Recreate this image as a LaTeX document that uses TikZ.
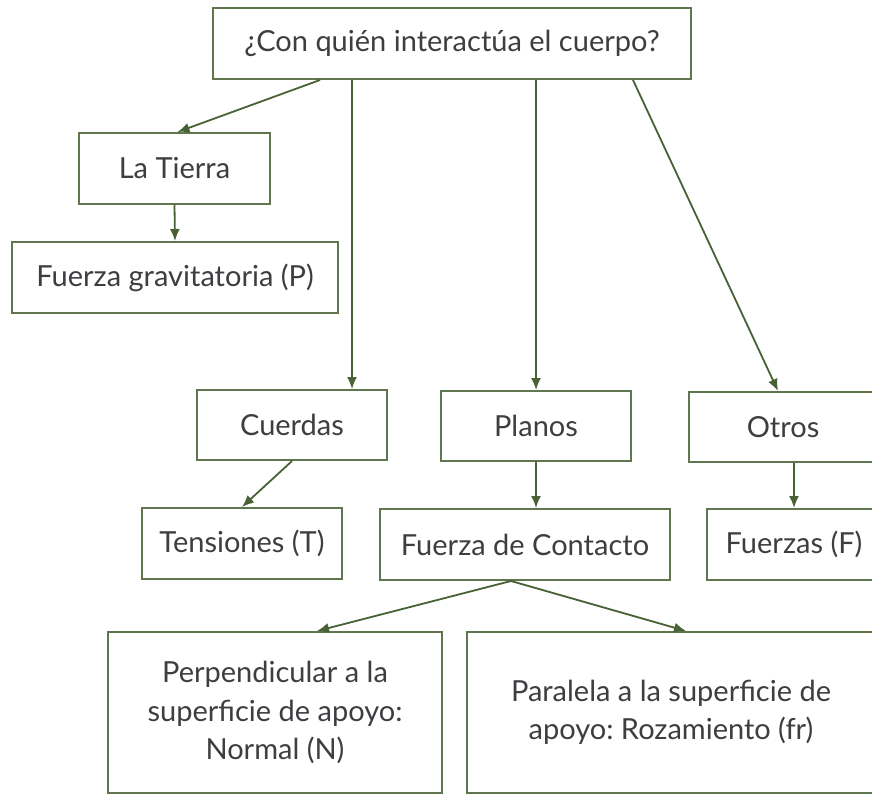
\documentclass[tikz,border=0pt]{standalone}
\usepackage{fontspec}
\setmainfont{Lato}
\usepackage{tikz}
\usetikzlibrary{positioning,arrows.meta}
\definecolor{boxgreen}{RGB}{96,118,78}
\definecolor{arrowgreen}{RGB}{72,98,54}
\definecolor{textgray}{RGB}{62,62,66}
\tikzset{>={Latex[width=10pt,length=12pt]}}
\tikzset{
  fbox/.style={draw=boxgreen, line width=2pt, text=textgray, inner sep=0pt,
    font=\fontsize{29}{38.5}\selectfont, align=center},
  farrow/.style={->, draw=arrowgreen, line width=1.8pt}
}
\frenchspacing

\begin{document}
\begin{tikzpicture}[x=1pt,y=-1pt]
			\useasboundingbox (0,0) rectangle (872,795);
			\fill[white] (0,0) rectangle (872,795);
			\clip (0,0) rectangle (872,795);
			\node[fbox, minimum width=478pt, minimum height=71pt] (pregunta) at (452,43.5) {¿Con quién interactúa el cuerpo?};
			\node[fbox, minimum width=191pt, minimum height=71pt] (tierra) at (174.5,168.5) {La Tierra};
			\node[fbox, minimum width=326pt, minimum height=71pt] (grav) at (175,277.5) {Fuerza gravitatoria (P)};
			\node[fbox, minimum width=190pt, minimum height=70pt] (cuerdas) at (292,425) {Cuerdas};
			\node[fbox, minimum width=190pt, minimum height=70pt] (planos) at (536,426) {Planos};
			\node[fbox, minimum width=188pt, minimum height=70pt] (otros) at (783,427) {Otros};
			\node[fbox, minimum width=200pt, minimum height=71pt] (tensiones) at (242,543.5) {Tensiones (T)};
			\node[fbox, minimum width=290pt, minimum height=71pt] (contacto) at (525,544.5) {Fuerza de Contacto};
			\node[fbox, minimum width=174pt, minimum height=71pt] (fuerzas) at (794,544.5) {Fuerzas (F)};
			\node[fbox, minimum width=334pt, minimum height=161pt] (normal) at (275,712.5) {Perpendicular a la\\superficie de apoyo:\\Normal (N)};
			\node[fbox, minimum width=408pt, minimum height=161pt] (roce) at (671,712.5) {Paralela a la superficie de\\apoyo: Rozamiento (fr)};
			\draw[farrow] ([xshift=-132pt]pregunta.south) -- ([xshift=3pt]tierra.north);
			\draw[farrow] ([xshift=60pt]cuerdas.north |- pregunta.south) -- ([xshift=60pt]cuerdas.north);
			\draw[farrow] (planos.north |- pregunta.south) -- (planos.north);
			\draw[farrow] ([xshift=181pt]pregunta.south) -- ([xshift=-5pt]otros.north);
			\draw[farrow] (tierra.south) -- (grav.north);
			\draw[farrow] (cuerdas.south) -- (tensiones.north);
			\draw[farrow] (planos.south) -- (planos.south |- contacto.north);
			\draw[farrow] (fuerzas.north |- otros.south) -- (fuerzas.north);
			\draw[farrow] ([xshift=-14pt]contacto.south) -- ([xshift=42pt]normal.north);
			\draw[farrow] ([xshift=-14pt]contacto.south) -- ([xshift=15pt]roce.north);
	\end{tikzpicture}
\end{document}
